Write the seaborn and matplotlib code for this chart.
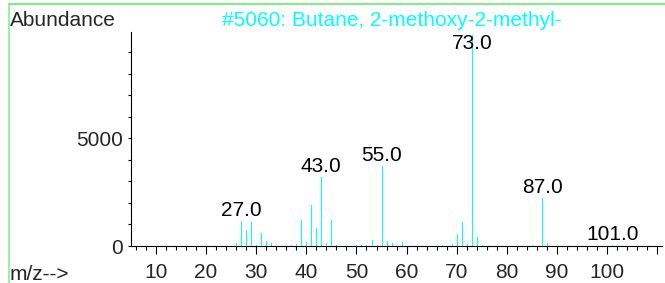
import numpy as np
import pandas as pd
import seaborn as sns
import matplotlib.pyplot as plt
from matplotlib.lines import Line2D

# spectrum data (m/z, abundance)
mz = [26, 27, 28, 29, 30, 31, 32, 33, 37, 38, 39, 40, 41, 42, 43, 44, 45, 46,
      50, 51, 52, 53, 54, 55, 56, 57, 59, 67, 69, 70, 71, 72, 73, 74, 75, 85,
      87, 88, 101]
abundance = [140, 1160, 730, 1115, 50, 600, 230, 140, 30, 75, 1210, 186, 1900,
             820, 3210, 120, 1190, 30, 30, 50, 30, 260, 40, 3715, 230, 150, 170,
             30, 80, 535, 1100, 80, 9800, 430, 40, 30, 2220, 120, 30]
labelled = [27, 43, 55, 73, 87, 101]
title = "#5060: Butane, 2-methoxy-2-methyl-"
x_ticks = [10, 20, 30, 40, 50, 60, 70, 80, 90, 100, 110]
x_labels = ["10", "20", "30", "40", "50", "60", "70", "80", "90", "100", ""]

sns.set_style("ticks")
plt.rcParams['font.family'] = ['Liberation Sans', 'DejaVu Sans']

W, H = 665, 283
fig = plt.figure(figsize=(W / 100, H / 100), dpi=100)
ax = fig.add_axes([130.7 / W, (H - 246) / H, (662 - 130.7) / W, (246 - 31.7) / H])

df = pd.DataFrame({"mz": mz, "abundance": abundance})
# stick spectrum: one thin cyan line per ion
ax.vlines(df["mz"], 0, df["abundance"], color="#00FFFF", lw=0.72, antialiased=False)

ax.set_xlim(5, 110.9)
ax.set_ylim(0, 9950)
ax.set_xlabel("")
ax.set_ylabel("")
sns.despine(ax=ax)
for s in ["left", "bottom"]:
    ax.spines[s].set_linewidth(0.8)
    ax.spines[s].set_color("black")

ax.set_xticks(x_ticks)
ax.set_xticklabels(x_labels)
ax.set_xticks(range(6, 111, 2), minor=True)
ax.set_yticks([0, 5000])
ax.set_yticks(range(0, 10000, 1000), minor=True)
ax.tick_params(axis="x", which="major", length=6, width=0.8, pad=6, labelsize=15, color="black")
ax.tick_params(axis="x", which="minor", length=3.2, width=0.8, color="black")
ax.tick_params(axis="y", which="both", length=2.5, width=0.8, pad=3, labelsize=15, color="black")

# peak labels, the tallest one is held below the title line
for m in labelled:
    h = abundance[mz.index(m)]
    ax.annotate(f"{m:.1f}", (m, min(h, 8930)), xytext=(0, 3.6), textcoords="offset points",
                ha="center", va="baseline", fontsize=15, color="black")

fig.text(10 / W, 1 - 26 / H, "Abundance", va="baseline", ha="left", fontsize=15)
fig.text(222 / W, 1 - 26 / H, title, va="baseline", ha="left", fontsize=15, color="#00FFFF")
fig.text(10 / W, 1 - 280 / H, "m/z-->", va="baseline", ha="left", fontsize=15)

# green frame (top and left only)
fig.add_artist(Line2D([9 / W, 1], [1 - 4 / H, 1 - 4 / H], transform=fig.transFigure,
                      color="#7CF07C", lw=1.4))
fig.add_artist(Line2D([9 / W, 9 / W], [0, 1 - 4 / H], transform=fig.transFigure,
                      color="#7CF07C", lw=1.1))

fig.savefig("out.png", dpi=100)
